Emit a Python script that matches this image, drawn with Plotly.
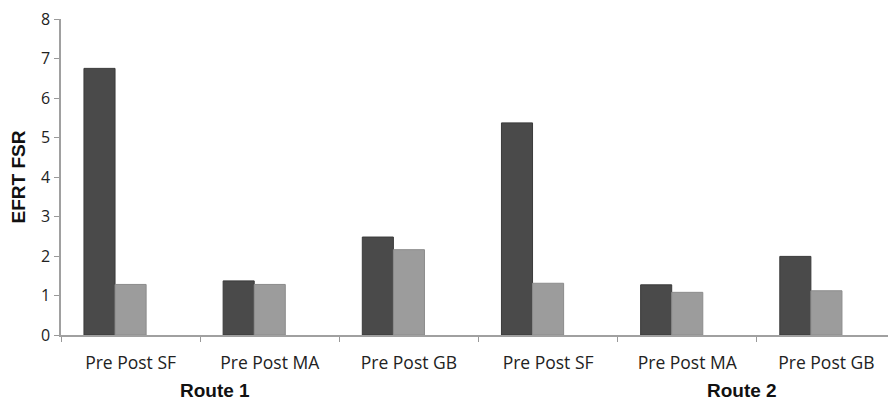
import plotly.graph_objects as go

categories = ["SF1", "MA1", "GB1", "SF2", "MA2", "GB2"]
tick_labels = ["Pre Post SF", "Pre Post MA", "Pre Post GB", "Pre Post SF", "Pre Post MA", "Pre Post GB"]
pre_values = [6.75, 1.37, 2.48, 5.37, 1.27, 1.99]
post_values = [1.28, 1.28, 2.16, 1.31, 1.08, 1.12]
empty_values = [None] * 6
route_labels = ["Route 1", "Route 2"]
route_positions = [0.61, 4.39]

fig = go.Figure()
fig.add_bar(x=categories, y=pre_values, name="Pre",
            marker=dict(color="#4a4a4a", line=dict(color="#3a3a3a", width=1)))
fig.add_bar(x=categories, y=post_values, name="Post",
            marker=dict(color="#9c9c9c", line=dict(color="#8c8c8c", width=1)))
fig.add_bar(x=categories, y=empty_values, name="", showlegend=False)

for lab, pos in zip(route_labels, route_positions):
    fig.add_annotation(x=pos, y=0, xref="x", yref="paper", text="<b>" + lab + "</b>",
                       showarrow=False, yanchor="middle", yshift=-55,
                       font=dict(family="Liberation Sans, Arial", size=19, color="#111111"))

# page body has an 8px default margin, so the figure is sized/offset to fit the 896x404 window
fig.update_layout(
    width=888, height=396,
    margin=dict(l=53, r=0, t=11, b=69),
    paper_bgcolor="white", plot_bgcolor="white",
    barmode="group", bargap=0.33, bargroupgap=0,
    showlegend=False,
    font=dict(family="Liberation Sans, Arial", color="#222222"),
)
fig.update_xaxes(
    type="category", tickmode="array", tickvals=categories, ticktext=tick_labels,
    tickson="boundaries", ticks="outside", ticklen=5, tickcolor="#999999",
    showline=True, linecolor="#a0a0a0", linewidth=1.5, showgrid=False,
    tickfont=dict(family="Open Sans", size=17.5, color="#222222"),
    ticklabelstandoff=11, automargin=False,
)
fig.update_yaxes(
    range=[0, 8], dtick=1, ticks="outside", ticklen=5, tickcolor="#999999",
    showline=True, linecolor="#a0a0a0", linewidth=1.5, showgrid=False, zeroline=False,
    tickfont=dict(family="Open Sans", size=16, color="#222222"),
    ticklabelstandoff=1, automargin=False, ticklabeloverflow="allow",
    title=dict(text="<b>EFRT FSR</b>", font=dict(family="Liberation Sans, Arial", size=19, color="#111111"),
               standoff=13),
)

fig.write_html("out.html")
